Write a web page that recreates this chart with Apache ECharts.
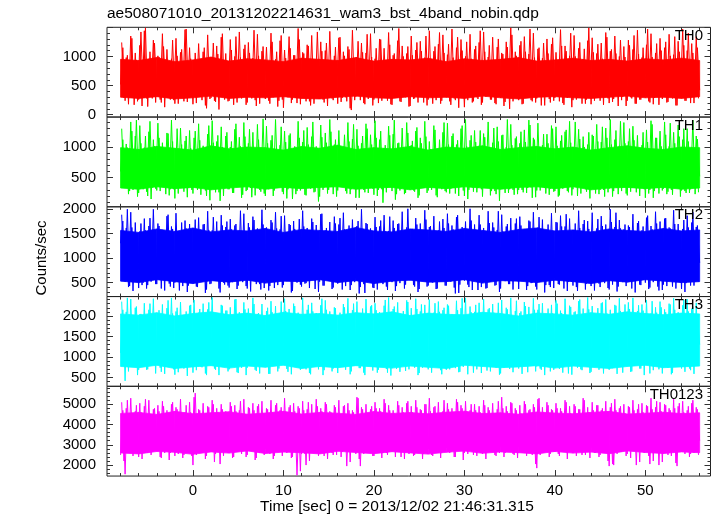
<!DOCTYPE html>
<html><head><meta charset="utf-8">
<script src="https://cdn.jsdelivr.net/npm/echarts@6/dist/echarts.min.js"></script>
<style>html,body{margin:0;padding:0;background:#fff}#c{width:717px;height:516px}</style>
</head><body><div id="c"></div>
<script>
const TITLE = 'ae508071010_20131202214631_wam3_bst_4band_nobin.qdp';
const X_TITLE = 'Time [sec] 0 = 2013/12/02 21:46:31.315';
const Y_TITLE = 'Counts/sec';
const BAND_NAMES = ['TH0', 'TH1', 'TH2', 'TH3', 'TH0123'];
const BAND_COLORS = ['#ff0000', '#00ff00', '#0000ff', '#00ffff', '#ff00ff'];

// light-curve samples: two interleaved sets of bins (A and B), bin width BIN sec
const T_START = -8, T_START_B = -7.875, BIN = 0.25;
// coarse time bins for the dense core of each band
const CORE_T_START = -8, CORE_BIN = 2;

const TH0 = [
520,1150,240,1020,300,1310,170,940,260,1420,330,1490,140,1080,280,1230,
350,990,210,1170,310,890,260,1280,190,1010,360,1120,230,1470,300,960,
180,1060,330,870,250,1150,110,990,290,1230,220,1040,320,1390,260,920,
240,1110,170,1340,300,980,350,1200,210,1060,280,1450,150,1010,330,1170,
270,900,190,1250,310,1080,240,1360,120,970,300,1140,260,1020,200,1290,
330,1050,230,1180,160,940,300,1420,270,1090,210,1230,340,880,250,1160,
190,1330,290,1010,230,1120,80,960,310,1260,250,1070,180,1380,320,990,
260,1140,200,1290,350,930,240,1200,170,1050,290,1480,220,1000,300,1170,
150,1020,280,1240,330,1090,210,1350,260,950,190,1170,310,1410,240,1060,
300,1210,170,980,250,1330,290,1100,130,1250,320,960,230,1180,270,1440,
210,1080,340,1190,260,920,180,1300,290,1040,220,1160,100,1370,300,1010,
250,1260,190,1080,310,1470,230,980,280,1150,160,1230,340,1050,210,1320,
290,940,230,1180,170,1090,320,1400,250,1000,290,1240,190,1130,260,1490,
180,1070,300,1210,240,960,330,1330,200,1120,270,1050,150,1280,310,990,
240,1190,280,1360,190,1040,260,1150,320,1470,210,990,290,1220,170,1100,
310,1250,220,1010,280,1340,160,1080,300,1190,240,1400,200,1060,330,1150,
420];
const TH0_B = [
1240,290,980,180,1350,310,1060,230,1190,150,1440,280,920,340,1280,210,
1010,260,1390,130,1120,320,960,250,1310,190,1070,350,1460,220,1150,300,
930,200,1220,330,1080,160,1370,270,990,240,1180,90,1330,310,1050,230,
1290,350,1000,210,1420,280,1130,170,1240,320,970,250,1380,190,1090,330,
1160,240,1400,300,950,140,1270,260,1110,350,1340,200,1020,290,1480,180,
1070,310,1200,230,1360,190,940,320,1250,260,1100,150,1430,280,1010,340,
1320,220,1080,300,1170,110,1450,250,990,330,1230,200,1060,270,1390,160,
960,330,1300,240,1140,290,1410,180,1020,310,1270,230,1180,350,1050,140,
1350,270,1110,210,1260,340,980,160,1440,300,1090,250,1210,190,1370,320,
1030,230,1470,280,1150,120,1290,330,1000,250,1380,210,1120,300,1240,170,
1420,310,990,260,1330,200,1160,340,1060,150,1250,290,1490,230,1080,320,
1190,180,1340,300,1040,250,1400,210,1130,330,970,160,1300,270,1210,240,
1070,350,1460,200,1180,290,1010,130,1360,260,1140,320,950,190,1270,300,
1320,240,1050,310,1230,170,1410,280,1090,220,1350,340,1000,250,1170,150,
1280,300,1120,190,1450,260,980,330,1200,230,1390,180,1060,310,1310,270,
1150,210,1380,340,1030,160,1260,290,1470,240,1100,320,1220,200,1340,280];

const TH1 = [
600,1120,330,990,280,1260,370,1440,250,1060,310,1180,200,1420,340,1010,
290,1150,380,940,230,1220,310,1090,160,1300,350,1040,270,1180,330,980,
240,1260,300,1110,370,950,200,1350,320,1070,260,1190,120,1000,340,1240,
310,1090,250,1380,350,1010,220,1170,300,1290,180,960,330,1120,270,1460,
200,1060,340,1190,290,920,360,1330,230,1080,310,1220,150,1010,280,1150,
350,1270,210,1040,320,1410,270,980,190,1160,340,1070,300,1250,230,1120,
290,960,360,1200,240,1090,310,1370,170,1020,330,1180,260,1300,350,1040,
220,1150,300,1260,90,1030,340,1190,280,1440,230,1070,320,990,250,1230,
340,1100,270,1320,210,1060,330,1170,290,960,360,1280,180,1120,310,1400,
260,1040,320,1220,240,1110,350,1350,200,1010,300,1190,270,1080,330,1270,
190,1160,340,1000,280,1310,230,1090,360,1200,250,1450,310,1030,220,1170,
300,1250,260,1080,330,1360,170,1120,290,990,350,1210,240,1060,320,1300,
280,1020,210,1190,340,1280,260,1070,310,1410,200,1130,330,1000,270,1240,
350,1180,240,1090,300,1330,190,1150,320,1040,280,1270,230,1420,340,1060,
210,1300,330,1110,260,980,350,1240,170,1080,300,1370,280,1150,240,1010,
320,1200,270,1390,220,1060,340,1170,290,1300,250,1090,310,1440,230,1130,
520];
const TH1_B = [
1300,360,1050,230,1410,300,1180,190,1350,340,990,270,1250,150,1120,320,
1390,280,1070,350,1230,210,1440,310,960,240,1310,370,1100,180,1270,300,
1150,330,1380,220,1020,290,1210,130,1430,350,1090,260,1330,200,1180,310,
1000,250,1290,380,1160,170,1400,280,1060,330,1240,210,1370,300,950,240,
1340,310,1110,200,1450,350,1030,270,1260,160,1190,330,980,230,1420,290,
1080,220,1320,340,1170,260,1010,110,1360,300,1230,240,1450,350,1040,190,
1270,350,990,280,1400,230,1130,330,1290,170,1060,300,1380,250,1200,320,
1430,200,1120,310,980,260,1340,350,1210,140,1060,290,1310,230,1400,330,
1030,290,1260,170,1150,340,1420,250,1090,300,1350,210,970,360,1240,280,
1390,240,1180,330,1040,200,1300,290,1450,150,1110,340,1270,260,1020,310,
1220,350,1410,210,1070,280,1330,120,1190,320,1000,250,1370,300,1140,230,
1060,300,1280,250,1440,340,1150,180,1390,290,1030,330,1210,220,1350,270,
1330,190,1100,320,1250,280,1420,210,970,350,1290,240,1170,310,1040,160,
1200,340,1370,230,1080,300,1310,260,1450,190,1120,330,1020,280,1400,240,
1090,270,1340,360,1190,200,1030,310,1280,240,1430,170,1150,330,1260,290,
1410,230,1010,300,1240,340,1360,190,1120,280,1300,250,990,350,1180,260];

const TH2 = [
1300,1750,520,1990,430,1620,580,1480,390,1700,500,1560,450,1810,610,1430,
470,1650,380,1520,560,1880,420,1590,500,1450,340,1720,590,1600,440,1530,
530,1780,410,1470,620,1690,360,1570,480,1830,550,1500,300,1660,460,1740,
400,1580,570,1690,440,1960,510,1490,380,1620,600,1770,470,1540,360,1680,
560,1450,430,1720,390,1600,540,1850,450,1510,610,1670,330,1590,500,1790,
420,1640,490,1550,580,1730,370,1470,520,1900,440,1610,560,1500,400,1700,
480,1810,360,1580,530,1660,450,1440,590,1750,410,1570,290,1690,540,1520,
390,1630,560,1760,470,1540,350,1840,510,1610,430,1700,580,1480,460,2000,
550,1590,420,1680,370,1520,600,1780,440,1650,500,1460,380,1740,570,1610,
440,1700,520,1580,280,1870,460,1630,540,1490,410,1760,590,1570,350,1680,
510,1550,390,1710,570,1620,450,1950,380,1540,530,1690,470,1460,600,1800,
370,1660,540,1510,430,1740,500,1600,360,1830,580,1570,450,1680,410,1500,
600,1720,460,1640,380,1890,520,1530,440,1700,330,1610,560,1770,480,1590,
430,1500,570,1790,410,1650,490,1560,360,1730,550,1920,420,1600,510,1680,
540,1630,380,1470,590,1750,450,1640,500,1860,400,1580,570,1700,340,1550,
460,1810,530,1600,420,1690,580,1540,370,1770,490,1620,440,1930,520,1660,
900];
const TH2_B = [
1880,560,1610,410,1930,330,1720,590,1540,450,1800,380,1650,520,1990,470,
1700,600,1570,340,1850,480,1640,390,1910,550,1520,430,1760,310,1690,580,
1590,420,1820,530,1680,290,1950,470,1560,610,1740,380,1870,500,1630,440,
1790,510,1660,370,1550,590,1900,430,1710,320,1840,560,1600,470,1980,390,
1620,340,1770,610,1930,450,1580,400,1860,530,1690,300,1750,570,1540,460,
1960,480,1610,390,1800,550,1670,310,1890,440,1560,600,1730,370,1840,520,
1680,590,1920,430,1570,350,1780,510,1650,280,1990,470,1710,560,1600,400,
1830,360,1640,540,1870,420,1550,600,1760,330,1690,490,1940,380,1620,570,
1580,450,1810,310,1700,580,1970,420,1630,510,1850,370,1560,600,1790,440,
1900,530,1660,400,1830,290,1590,560,1740,460,2000,350,1680,520,1870,410,
1610,380,1950,540,1720,440,1570,310,1880,590,1640,470,1810,360,1700,530,
1840,600,1590,350,1760,490,1930,420,1620,570,1780,300,1550,450,1910,390,
1730,470,1860,560,1640,330,1800,520,1570,410,1960,590,1690,360,1750,500,
1920,340,1600,480,1850,600,1680,390,1990,460,1630,320,1770,550,1580,430,
1660,550,1890,300,1710,460,1560,580,1820,370,1650,510,1940,420,1740,350,
1800,430,1620,590,1970,380,1690,500,1590,310,1860,570,1720,440,1630,520];

const TH3 = [
1100,2150,420,2440,760,1960,850,2230,690,2050,920,1880,700,2300,810,2010,
880,2140,640,1930,760,2380,830,2060,570,2200,900,1850,720,2110,790,2270,
620,2020,870,2170,750,1900,560,2330,840,2080,690,1960,910,2250,770,2130,
700,1870,820,2410,610,2040,890,2160,740,1950,800,2290,660,2070,870,1920,
780,2200,590,2090,860,1980,720,2350,810,2120,640,1890,900,2240,750,2030,
830,1940,700,2270,580,2110,880,2010,760,2420,680,2150,850,1900,720,2190,
610,2080,840,2210,790,1970,650,2300,900,2060,730,2180,560,1930,860,2260,
760,2140,690,1910,830,2390,620,2070,880,2230,710,1990,800,2120,660,2340,
870,1990,740,2170,610,2280,820,2040,700,1880,900,2310,760,2100,580,2200,
690,2250,850,2020,730,2140,640,2430,870,1960,780,2090,620,2270,830,2050,
810,1920,670,2190,890,2080,740,2320,600,2010,850,2160,710,1950,880,2370,
720,2110,800,2240,630,1980,860,2150,770,2290,690,2030,910,2180,650,2060,
890,2300,710,2070,790,1940,600,2220,850,2110,740,2400,680,2000,820,2160,
640,2040,870,2190,730,2330,800,2060,690,1910,880,2250,760,2120,620,2280,
790,2170,650,2010,900,2260,720,2130,840,1990,600,2360,780,2080,700,2210,
850,2090,740,2280,610,2150,870,2020,720,2390,800,2110,680,2230,830,2040,
1300];
const TH3_B = [
2350,820,2100,650,2410,880,2200,560,2040,760,2310,690,2150,870,2420,600,
2060,740,2280,590,2190,850,2440,700,2110,630,2340,800,1990,540,2250,890,
2390,680,2080,770,2300,600,2160,860,2450,720,2020,560,2270,830,2130,650,
2210,880,2400,630,2090,740,2330,560,2180,810,2440,690,2050,600,2290,860,
2120,590,2360,790,2240,650,2010,870,2420,710,2170,580,2300,840,2080,690,
2440,760,2150,610,2320,880,2070,700,2260,560,2380,820,2110,650,2210,780,
2000,850,2290,690,2430,580,2140,800,2350,730,2060,620,2410,880,2230,670,
2310,620,2090,830,2250,710,2450,550,2170,870,2330,640,2030,780,2380,700,
2190,800,2420,560,2110,740,2270,890,2400,620,2080,790,2350,680,2140,850,
2280,700,2040,870,2370,630,2190,760,2440,580,2230,820,2100,700,2320,610,
2410,860,2160,650,2290,800,2060,570,2390,740,2200,880,2440,630,2120,770,
2070,590,2340,780,2220,870,2430,650,2150,720,2310,560,2030,830,2270,690,
2380,750,2130,620,2420,840,2250,570,2090,790,2360,700,2180,880,2450,610,
2240,880,2050,690,2310,600,2400,820,2150,730,2270,590,2430,770,2100,850,
2330,640,2440,810,2120,720,2280,560,2390,870,2060,680,2210,790,2350,600,
2160,820,2300,580,2430,760,2090,870,2260,640,2410,720,2180,590,2320,800];

const TH0123 = [
2500,4700,1550,5200,2700,4500,2900,4950,2400,4600,2800,5250,2600,4400,3000,4800,
2700,4650,2350,4900,2950,4450,2600,5100,2450,4750,2850,4550,2500,4950,2750,4600,
2000,5550,2650,4700,2900,4500,2450,4850,2750,5000,2550,4600,2050,4750,2850,4450,
2600,4900,2400,4650,2950,5150,2700,4500,2500,4800,2900,4700,2350,5000,2650,4550,
2800,4750,2550,4600,2450,5050,2900,4850,2650,4500,2750,4950,2400,4650,1500,4800,
2550,4700,2000,5100,2850,4550,2600,4900,2700,4650,2450,5000,2900,4600,2500,4850,
2750,4500,2650,4950,1950,4700,2800,4600,2550,5300,1950,4750,2700,4550,2900,4900,
2450,4800,2850,4650,2600,5050,2500,4700,2900,4550,2650,4950,2400,4600,2800,5150,
2700,4600,2500,4850,2950,4700,2550,5000,2800,4650,2450,4900,2750,4550,2600,5200,
2850,4750,2650,4550,2400,5100,2900,4800,2600,4650,2750,5000,2500,4700,2950,4600,
2550,4950,2800,4700,2650,4500,2450,5150,2900,4800,2600,4650,2750,5050,2500,4700,
2900,4550,2600,5000,2750,4750,2500,4850,1850,5300,2700,4600,2850,4950,2550,4700,
2650,4800,2450,4650,2900,5100,2700,4550,2600,4900,2800,4750,2500,5200,2750,4600,
2850,4700,2600,4950,2500,4800,2750,4650,1950,5050,2000,4700,2650,4900,2800,4550,
2550,4850,2900,4700,2000,5000,2650,4600,2750,4900,2050,4750,2600,5150,2000,4650,
2700,4950,2500,4700,2850,4800,1950,5050,2650,4600,2800,4900,2550,5200,2700,4750,
3200];
const TH0123_B = [
5100,2200,4800,2750,5300,2450,4650,2900,5050,2300,4900,2650,5200,2500,4750,2850,
4950,2400,5150,2600,4700,2250,5000,2800,4850,2550,5250,2350,4600,2700,5100,2450,
5350,2500,4750,2850,5050,2300,4900,2650,5200,2150,4800,2750,5000,2450,4650,2600,
5100,2350,4950,2700,4700,2550,5250,2400,4850,2850,5050,2250,4900,2600,5150,2500,
4800,2650,5200,2300,4950,2800,4700,2450,5300,2600,4850,2350,5050,2750,4900,1700,
5150,2550,4750,2200,5000,2700,5250,2450,4800,2850,5100,2300,4650,2600,4950,2500,
5200,2400,4900,2750,5050,2150,4700,2650,5350,2300,4850,2550,5000,2800,4750,2450,
5100,2700,4800,2350,5250,2600,4950,2850,4700,2400,5150,2650,4850,2300,5050,2550,
4900,2450,5200,2750,4750,2300,5000,2600,5300,2500,4850,2700,5100,2350,4650,2800,
5050,2600,4800,2400,5250,2700,4950,2250,5150,2550,4700,2850,5000,2450,4900,2650,
5200,2300,4850,2750,5050,2500,4750,2600,5350,2400,4900,2800,5100,2550,4800,2350,
4950,2700,5150,2450,4700,2600,5000,2050,5250,2500,4850,2750,5100,2400,4750,2650,
5050,2550,4800,2850,5200,2300,4900,2650,5000,2450,4750,2700,5300,2500,4850,2350,
5100,2600,4950,2400,4700,2750,5150,2200,4850,2050,5250,2550,4800,2650,5000,2450,
4900,2350,5200,2700,4750,2150,5050,2600,4950,2450,5300,2200,4850,2700,5100,2150,
5000,2650,4800,2450,5250,2100,4900,2750,5150,2550,4700,2400,5050,2600,4850,2500];

// dense core of each band (lower / upper edge of the solid region, 2 s bins)
const TH0_CORE_LO = [300,280,310,270,290,320,280,300,290,310,280,270,300,320,290,280,310,290,300,280,320,290,270,300,310,290,280,300,320,290,300,280,310];
const TH0_CORE_HI = [950,930,980,910,940,990,920,960,940,910,970,950,930,980,920,950,940,970,910,960,930,950,980,920,940,970,930,950,920,960,940,970,930];
const TH1_CORE_LO = [330,310,350,320,340,300,330,350,310,340,320,340,350,310,330,340,300,340,320,350,330,310,340,350,320,350,300,330,340,320,340,310,330];
const TH1_CORE_HI = [990,960,1010,980,950,1020,970,1000,990,950,1010,980,1030,960,990,970,1010,950,1000,980,1020,960,990,1010,970,1000,950,990,1020,980,960,1000,990];
const TH2_CORE_LO = [530,500,560,520,480,540,510,550,490,530,520,560,500,540,480,530,550,510,520,560,490,540,530,500,550,520,480,540,510,560,530,500,520];
const TH2_CORE_HI = [1560,1520,1590,1540,1610,1530,1570,1550,1600,1520,1580,1560,1540,1620,1550,1530,1590,1570,1540,1600,1560,1520,1580,1610,1550,1570,1530,1590,1560,1540,1600,1550,1570];
const TH3_CORE_LO = [770,740,800,720,760,790,730,780,750,800,720,770,740,790,760,730,780,750,720,800,770,740,760,790,730,780,750,720,770,800,740,760,780];
const TH3_CORE_HI = [2050,2020,2080,2000,2060,2100,2030,2070,2010,2090,2040,2060,2020,2080,2050,2100,2010,2070,2040,2030,2090,2060,2000,2070,2050,2020,2080,2040,2100,2060,2030,2070,2050];
const TH0123_CORE_LO = [2600,2550,2670,2630,2530,2650,2590,2700,2570,2640,2610,2550,2680,2620,2560,2660,2600,2540,2630,2690,2580,2650,2610,2550,2670,2590,2640,2560,2700,2620,2570,2650,2610];
const TH0123_CORE_HI = [4550,4600,4500,4650,4530,4580,4630,4510,4570,4650,4520,4600,4560,4500,4640,4550,4590,4530,4610,4660,4540,4580,4510,4620,4570,4530,4600,4650,4520,4560,4610,4540,4580];

const SERIES_VALUES = [TH0, TH1, TH2, TH3, TH0123];
const SERIES_VALUES_B = [TH0_B, TH1_B, TH2_B, TH3_B, TH0123_B];
const CORE_LO = [TH0_CORE_LO, TH1_CORE_LO, TH2_CORE_LO, TH3_CORE_LO, TH0123_CORE_LO];
const CORE_HI = [TH0_CORE_HI, TH1_CORE_HI, TH2_CORE_HI, TH3_CORE_HI, TH0123_CORE_HI];

// axes
const X_MIN = -9.5, X_MAX = 57.2;
const X_MAJOR = [0, 10, 20, 30, 40, 50];
const X_LABELS = [0, 10, 20, 30, 40, 50];
const X_MINOR = [-8,-6,-4,-2,2,4,6,8,12,14,16,18,22,24,26,28,32,34,36,38,42,44,46,48,52,54,56];

const Y_MIN = [-40, 23, 217, 287, 1458];
const Y_MAX = [1500, 1490, 2040, 2473, 5887];
const Y_MAJOR = [[0,500,1000,1500],[500,1000],[500,1000,1500,2000],[500,1000,1500,2000],[2000,3000,4000,5000]];
const Y_LABELS = [[0,500,1000],[500,1000],[500,1000,1500,2000],[500,1000,1500,2000],[2000,3000,4000,5000]];
const Y_MINOR_STEP = [100, 100, 100, 100, 200];

const FONT = '"Liberation Sans", Arial, Helvetica, sans-serif';
const FS = 15;
const GRID_LEFT = 107, GRID_W = 603.5, GRID_TOP = 27.3, PANEL_H = 89.75;
const TICK_COLOR = '#333';

function minors(min, max, step, majors) {
  const out = [];
  const start = Math.ceil(min / step) * step;
  for (let v = start; v <= max; v += step) {
    if (majors.indexOf(v) < 0) out.push(v);
  }
  return out;
}

const grids = [], xAxes = [], yAxes = [], series = [], graphics = [];

for (let g = 0; g < 5; g++) {
  const top = GRID_TOP + g * PANEL_H;
  grids.push({left: GRID_LEFT, top: top, width: GRID_W, height: PANEL_H,
    show: true, borderColor: '#222', borderWidth: 1, backgroundColor: 'transparent'});

  const xSpecs = [
    {pos: 'bottom', vals: X_MAJOR, len: 6, labels: g === 4},
    {pos: 'bottom', vals: X_MINOR, len: 3, labels: false},
    {pos: 'top', vals: X_MAJOR, len: 6, labels: false},
    {pos: 'top', vals: X_MINOR, len: 3, labels: false}
  ];
  xSpecs.forEach(s => {
    xAxes.push({
      type: 'value', gridIndex: g, position: s.pos, min: X_MIN, max: X_MAX,
      axisLine: {show: false, onZero: false},
      splitLine: {show: false},
      axisTick: {show: true, inside: true, length: s.len, customValues: s.vals,
        lineStyle: {color: TICK_COLOR, width: 1}},
      axisLabel: {show: s.labels, customValues: X_LABELS, margin: 7,
        formatter: v => String(v),
        color: '#000', fontFamily: FONT, fontSize: FS}
    });
  });

  const yMin = Y_MIN[g], yMax = Y_MAX[g];
  const yMinor = minors(yMin, yMax, Y_MINOR_STEP[g], Y_MAJOR[g]);
  const yMajor = Y_MAJOR[g].filter(v => v >= yMin && v <= yMax);
  const ySpecs = [
    {pos: 'left', vals: yMajor, len: 6, labels: true},
    {pos: 'left', vals: yMinor, len: 3, labels: false},
    {pos: 'right', vals: yMajor, len: 6, labels: false},
    {pos: 'right', vals: yMinor, len: 3, labels: false}
  ];
  ySpecs.forEach(s => {
    yAxes.push({
      type: 'value', gridIndex: g, position: s.pos, min: yMin, max: yMax,
      axisLine: {show: false, onZero: false},
      splitLine: {show: false},
      axisTick: {show: true, inside: true, length: s.len, customValues: s.vals,
        lineStyle: {color: TICK_COLOR, width: 1}},
      axisLabel: {show: s.labels, customValues: Y_LABELS[g], margin: 11,
        formatter: v => String(v),
        color: '#000', fontFamily: FONT, fontSize: FS}
    });
  });

  const color = BAND_COLORS[g];
  const lo = CORE_LO[g], hi = CORE_HI[g];
  // solid core of the band: polygon between lower and upper edges
  series.push({
    type: 'custom', xAxisIndex: g * 4, yAxisIndex: g * 4, silent: true, z: 1,
    encode: {x: 0, y: [1, 2]},
    data: lo.map((v, i) => [CORE_T_START + i * CORE_BIN, v, hi[i]]),
    renderItem: (params, api) => {
      const i = params.dataIndex;
      if (i >= lo.length - 1) return null;
      const t0 = CORE_T_START + i * CORE_BIN, t1 = CORE_T_START + (i + 1) * CORE_BIN;
      const pts = [api.coord([t0, lo[i]]), api.coord([t1, lo[i + 1]]),
                   api.coord([t1, hi[i + 1]]), api.coord([t0, hi[i]])];
      return {type: 'polygon', shape: {points: pts},
        style: {fill: color, stroke: color, lineWidth: 0.8}};
    }
  });

  [[SERIES_VALUES[g], T_START], [SERIES_VALUES_B[g], T_START_B]].forEach(([vals, t0]) => {
    series.push({
      type: 'line', name: BAND_NAMES[g], xAxisIndex: g * 4, yAxisIndex: g * 4,
      data: vals.map((v, i) => [t0 + i * BIN, v]),
      showSymbol: false, symbol: 'none',
      lineStyle: {color: color, width: 1},
      itemStyle: {color: color},
      z: 2
    });
  });

  graphics.push({type: 'text', right: 717 - 703, top: top + 1,
    style: {text: BAND_NAMES[g], fill: '#000', font: FS + 'px ' + FONT, textAlign: 'right'}, z: 10});
}

graphics.push({type: 'text', left: GRID_LEFT, top: 6,
  style: {text: TITLE, fill: '#000', font: '15.5px ' + FONT}});
graphics.push({type: 'text', x: 397, y: 499,
  style: {text: X_TITLE, fill: '#000', font: '15.5px ' + FONT, textAlign: 'center'}});
graphics.push({type: 'text', left: 34, top: 'middle', rotation: Math.PI / 2,
  style: {text: Y_TITLE, fill: '#000', font: FS + 'px ' + FONT}});

const chart = echarts.init(document.getElementById('c'), null, {renderer: 'canvas'});
chart.setOption({
  animation: false,
  backgroundColor: '#fff',
  grid: grids, xAxis: xAxes, yAxis: yAxes, series: series, graphic: graphics
});
</script></body></html>
